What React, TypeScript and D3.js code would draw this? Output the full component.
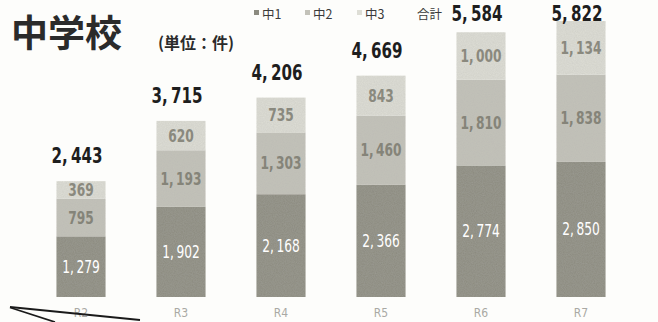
import React from "react";
import * as d3 from "d3";

// Years (Reiwa era) and counts per grade
const years = ["R2", "R3", "R4", "R5", "R6", "R7"];
const grade1 = [1279, 1902, 2168, 2366, 2774, 2850];
const grade2 = [795, 1193, 1303, 1460, 1810, 1838];
const grade3 = [369, 620, 735, 843, 1000, 1134];
const seriesKeys = ["中1", "中2", "中3"];
const legendLabels = ["中1", "中2", "中3", "合計"];

const W = 658;
const H = 322;
const baseY = 297;
const topY = 21;

const colors = ["#8b8a7f", "#c3c2b9", "#deded6"];
const labelColors = ["#ffffff", "#858479", "#8a897e"];

const numFmt = (v: number) => d3.format(",")(v).replace(",", ",\u2009");

// condensed numerals: horizontally squeezed text anchored at (x, y)
function Narrow({ x, y, sx, children, ...rest }: any) {
  return (
    <text transform={`translate(${x},${y}) scale(${sx},1)`} textAnchor="middle" {...rest}>
      {children}
    </text>
  );
}

export default function App() {
  const rows = years.map((y, i) => ({
    year: y,
    中1: grade1[i],
    中2: grade2[i],
    中3: grade3[i],
  }));
  const totals = years.map((_, i) => grade1[i] + grade2[i] + grade3[i]);

  const x = d3.scaleBand<string>().domain(years).range([31, 631]).paddingInner(0.51).paddingOuter(0.255);
  const y = d3
    .scaleLinear()
    .domain([0, d3.max(totals) as number])
    .range([baseY, topY]);

  const stack = d3.stack<any>().keys(seriesKeys)(rows);

  const numFont = "'DejaVu Sans Condensed', 'DejaVu Sans', sans-serif";
  const cjk = "'Noto Sans CJK JP', 'Noto Sans', sans-serif";

  return (
    <svg
      width={W}
      height={H}
      viewBox={`0 0 ${W} ${H}`}
      style={{ position: "absolute", left: 0, top: 0, background: "#fdfdfb" }}
    >
      <defs>
        <filter id="grain" x="0" y="0" width="100%" height="100%">
          <feTurbulence type="fractalNoise" baseFrequency="0.9" numOctaves="2" seed="3" result="n" />
          <feColorMatrix
            in="n"
            type="matrix"
            values="0 0 0 0 0.45  0 0 0 0 0.45  0 0 0 0 0.42  0 0 0 0.35 0"
            result="g"
          />
          <feComposite in="g" in2="SourceGraphic" operator="in" result="gi" />
          <feMerge>
            <feMergeNode in="SourceGraphic" />
            <feMergeNode in="gi" />
          </feMerge>
        </filter>
      </defs>

      {/* title */}
      <text x={11} y={47} fontFamily={cjk} fontWeight={700} fontSize={37} fill="#2b2b2b">
        中学校
      </text>
      <text x={158} y={49} fontFamily={cjk} fontWeight={700} fontSize={16} fill="#2b2b2b">
        (単位：件)
      </text>

      {/* legend */}
      {legendLabels.map((lab, i) => {
        const lx = [262, 313, 365, 417][i];
        return (
          <g key={lab}>
            {i < 3 && (
              <rect x={lx - 8} y={10} width={5} height={5} fill={colors[i]} />
            )}
            <text x={lx} y={19} fontFamily={cjk} fontSize={12.5} fill="#3a3a3a">
              {lab}
            </text>
          </g>
        );
      })}

      {/* stacked bars */}
      {stack.map((layer, li) =>
        layer.map((d, i) => {
          const bx = x(years[i]) as number;
          const y0 = y(d[1]);
          const y1 = y(d[0]);
          return (
            <g key={`${li}-${i}`}>
              <rect
                x={bx}
                y={y0}
                width={x.bandwidth()}
                height={y1 - y0}
                fill={colors[li]}
                filter="url(#grain)"
              />
              <Narrow
                x={bx + x.bandwidth() / 2}
                y={(y0 + y1) / 2 + 6}
                sx={0.8}
                fontFamily={numFont}
                fontWeight={li === 0 ? 400 : 700}
                fontSize={17}
                fill={labelColors[li]}
              >
                {numFmt(d[1] - d[0])}
              </Narrow>
            </g>
          );
        })
      )}

      {/* totals */}
      {totals.map((t, i) => (
        <Narrow
          key={years[i]}
          x={(x(years[i]) as number) + x.bandwidth() / 2 - 4}
          y={Math.max(y(t) - 18, 21)}
          sx={0.8}
          fontFamily={numFont}
          fontWeight={700}
          fontSize={21}
          fill="#1e1e1e"
        >
          {numFmt(t)}
        </Narrow>
      ))}

      {/* category labels */}
      {years.map((yr) => (
        <text
          key={yr}
          x={(x(yr) as number) + x.bandwidth() / 2}
          y={317}
          textAnchor="middle"
          fontFamily={numFont}
          fontSize={12}
          fill="#a9a9a4"
        >
          {yr}
        </text>
      ))}

      {/* pointer wedge at the lower-left corner */}
      <path d="M10,307 L140,320" stroke="#1a1a1a" strokeWidth={1.8} fill="none" />
      <path d="M10,307.5 L55,322" stroke="#1a1a1a" strokeWidth={1.8} fill="none" />
    </svg>
  );
}
